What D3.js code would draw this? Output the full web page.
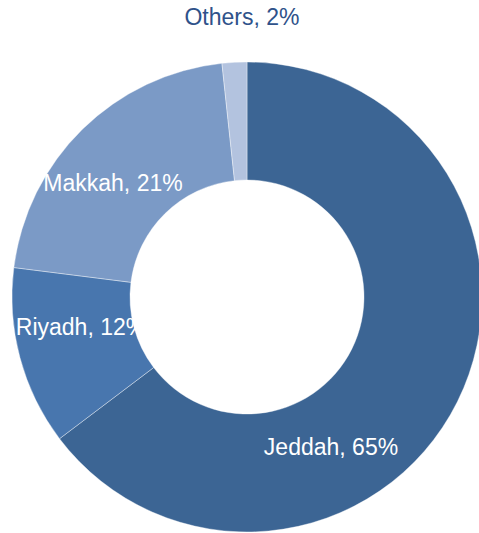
<!DOCTYPE html>
<html>
<head>
<meta charset="utf-8">
<script src="https://cdn.jsdelivr.net/npm/d3@7"></script>
<style>
  body { margin: 0; background: #fff; }
  svg { display: block; font-family: "Liberation Sans", Arial, sans-serif; }
</style>
</head>
<body>
<div id="chart"></div>
<script>
let categories = ['Jeddah', 'Riyadh', 'Makkah', 'Others'];
// shares; labels show them rounded
let shares = [64.7, 12.3, 21.3, 1.7];
let colors = ['#3c6594', '#4876ae', '#7b9ac6', '#b3c3df'];
// label placement relative to the chart centre (dx, baseline dy)
let labelOffsets = [[84, 158], [-166, 38], [-134, -106], [-5, -272]];
let labelColors = ['#fff', '#fff', '#fff', '#2f528a'];

let svgWidth = 479, svgHeight = 533;
let cx = 247, cy = 297;
let outerR = 235, innerR = 117;

let data = categories.map((c, i) => ({ category: c, value: shares[i], color: colors[i], i: i }));

let svg = d3.select('#chart').append('svg')
    .attr('width', svgWidth)
    .attr('height', svgHeight);

let g = svg.append('g')
    .attr('transform', 'translate(' + cx + ',' + cy + ')');

let pie = d3.pie()
    .sort(null)
    .value(d => d.value);

let arc = d3.arc()
    .innerRadius(innerR)
    .outerRadius(outerR);

g.selectAll('.slice')
    .data(pie(data))
    .enter().append('path')
    .attr('class', 'slice')
    .attr('d', arc)
    .attr('fill', d => d.data.color)
    .attr('stroke', '#ffffff')
    .attr('stroke-opacity', 0.5)
    .attr('stroke-width', 0.75);

g.selectAll('.label')
    .data(data)
    .enter().append('text')
    .attr('class', 'label')
    .attr('x', d => labelOffsets[d.i][0])
    .attr('y', d => labelOffsets[d.i][1])
    .attr('text-anchor', 'middle')
    .attr('font-size', '23px')
    .attr('fill', d => labelColors[d.i])
    .text(d => d.category + ', ' + Math.round(d.value) + '%');
</script>
</body>
</html>
